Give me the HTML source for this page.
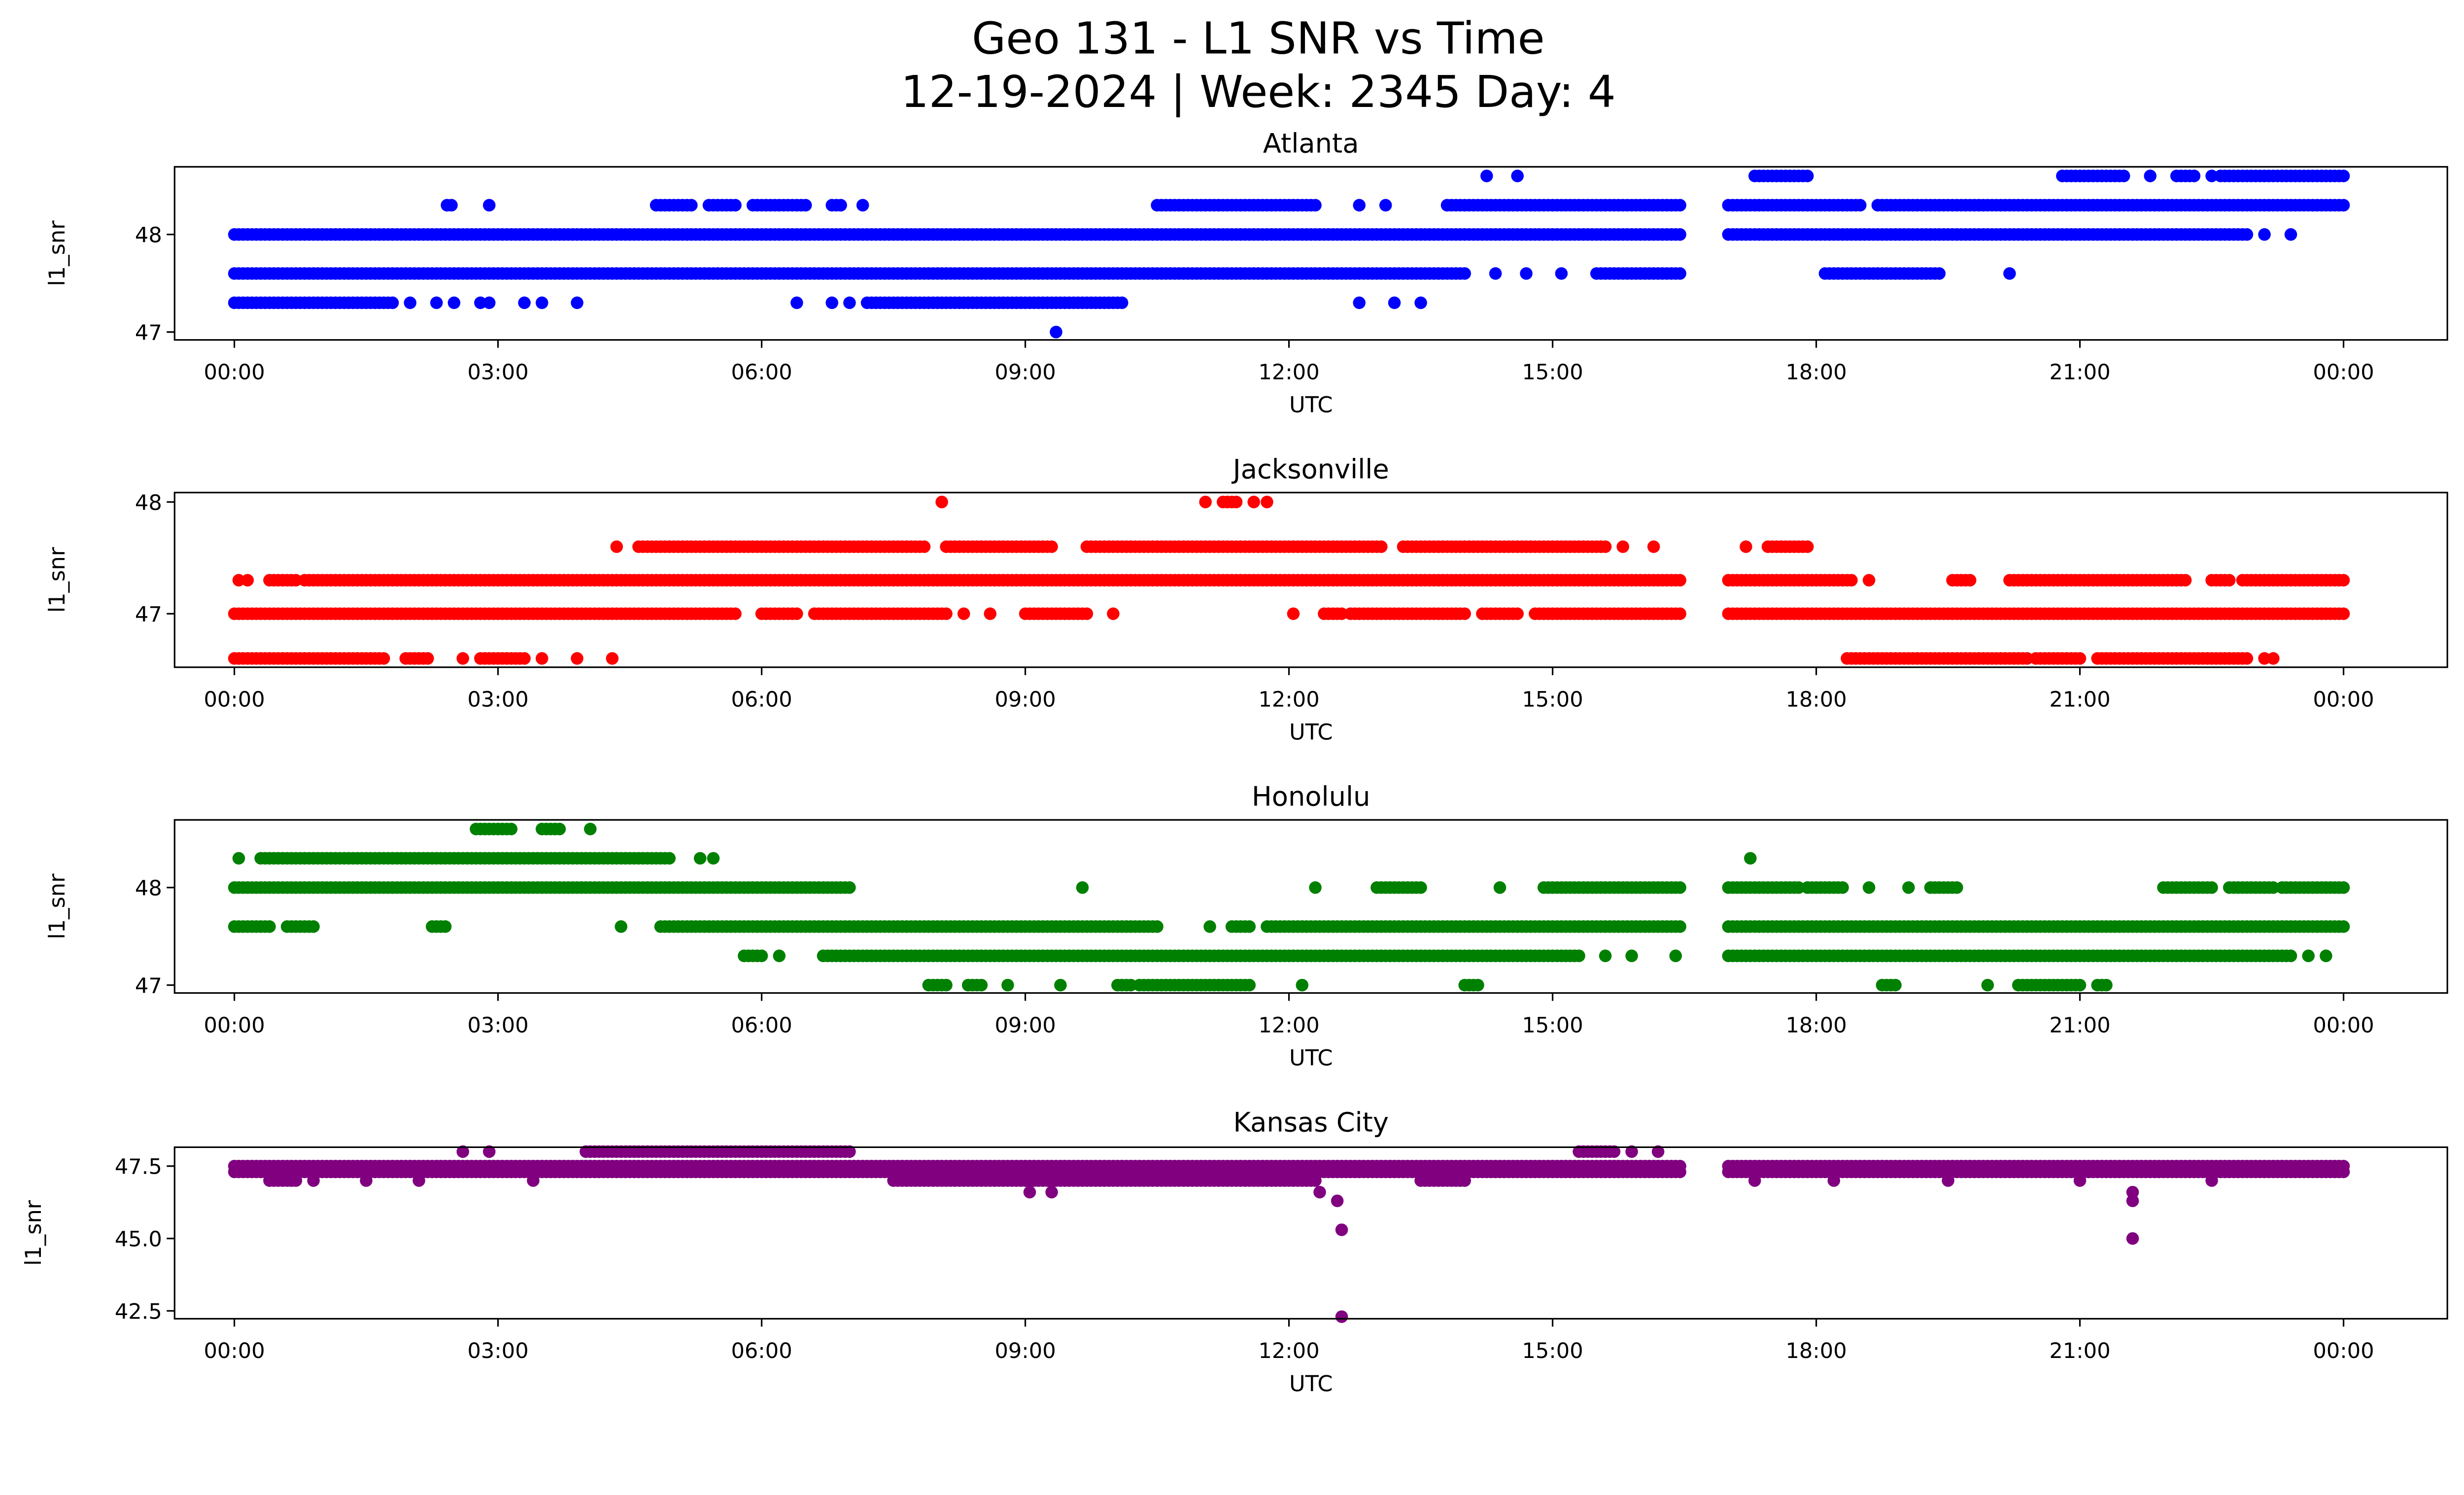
<!DOCTYPE html>
<html><head><meta charset="utf-8"><style>
html,body{margin:0;padding:0;background:#fff;overflow:hidden;}
svg{display:block;}
text{font-family:"DejaVu Sans","Liberation Sans",sans-serif;fill:#000;}
</style></head><body>
<svg id="chart" width="5279" height="3033" viewBox="0 0 1654 950" preserveAspectRatio="none" xmlns="http://www.w3.org/2000/svg">
<rect width="1654" height="950" fill="#fff"/>
<text x="800" y="34" font-size="28" text-anchor="middle">Geo 131 - L1 SNR vs Time</text>
<text x="800" y="68" font-size="28" text-anchor="middle">12-19-2024 | Week: 2345 Day: 4</text>
</svg>
<script>
// ---- data (hours UTC; runs are [start,end] of continuous samples, singles are lone samples) ----
const xTickLabels = ["00:00","03:00","06:00","09:00","12:00","15:00","18:00","21:00","00:00"];
const xTickHours = [0,3,6,9,12,15,18,21,24];

const atlantaLevels = [48.6, 48.3, 48, 47.6, 47.3, 47];
const atlantaRuns = [
  [[17.3,17.9],[20.8,21.5],[22.1,22.3],[22.6,24]],
  [[4.8,5.2],[5.4,5.7],[5.9,6.5],[6.8,6.9],[10.5,12.3],[13.8,16.45],[17,18.5],[18.7,24]],
  [[0,16.45],[17,22.9]],
  [[0,14.0],[15.5,16.45],[18.1,19.4]],
  [[0,1.8],[7.2,10.1]],
  []
];
const atlantaSingles = [
  [14.25,14.6,21.8,22.5],
  [2.42,2.47,2.9,7.15,12.8,13.1],
  [23.1,23.4],
  [14.35,14.7,15.1,20.2],
  [2.0,2.3,2.5,2.8,2.9,3.3,3.5,3.9,6.4,6.8,7.0,12.8,13.2,13.5],
  [9.35]
];

const jaxLevels = [48, 47.6, 47.3, 47, 46.6];
const jaxRuns = [
  [[11.25,11.4]],
  [[4.6,7.85],[8.1,9.3],[9.7,13.05],[13.3,15.6],[17.45,17.9]],
  [[0.4,0.7],[0.8,16.45],[17,18.4],[19.55,19.75],[20.2,21.7],[21.75,22.2],[22.5,22.7],[22.85,24]],
  [[0,5.7],[6.0,6.4],[6.6,8.1],[9.0,9.7],[12.4,12.6],[12.7,14.0],[14.2,14.6],[14.8,16.45],[17,24]],
  [[0,1.7],[1.95,2.2],[2.8,3.3],[18.35,20.4],[20.5,21.0],[21.2,22.9]]
];
const jaxSingles = [
  [8.05,11.05,11.6,11.75],
  [4.35,15.8,16.15,17.2],
  [0.05,0.15,18.6],
  [8.3,8.6,10.0,12.05],
  [2.6,3.5,3.9,4.3,23.1,23.2]
];

const honLevels = [48.6, 48.3, 48, 47.6, 47.3, 47];
const honRuns = [
  [[2.75,3.15],[3.5,3.7]],
  [[0.3,4.95]],
  [[0,7.0],[13.0,13.5],[14.9,16.45],[17,17.8],[17.9,18.3],[19.3,19.6],[21.95,22.5],[22.7,23.2],[23.3,24]],
  [[0,0.4],[0.6,0.9],[2.25,2.4],[4.85,10.5],[11.35,11.55],[11.75,16.45],[17,24]],
  [[5.8,6.0],[6.7,15.3],[17,23.4]],
  [[7.9,8.1],[8.35,8.5],[10.05,10.2],[10.3,11.55],[14.0,14.15],[18.75,18.9],[20.3,20.5],[20.55,21.0],[21.2,21.3]]
];
const honSingles = [
  [4.05],
  [0.05,5.3,5.45,17.25],
  [9.65,12.3,14.4,18.6,19.05],
  [4.4,11.1],
  [6.2,15.6,15.9,16.4,23.6,23.8],
  [8.8,9.4,12.15,19.95]
];

const kcLevels = [48, 47.5, 47.3, 47, 46.6, 46.3, 45.3, 45.0, 42.3];
const kcRuns = [
  [[4.0,7.0],[15.3,15.7]],
  [[0,16.45],[17,24]],
  [[0,16.45],[17,24]],
  [[7.5,12.3],[0.4,0.7],[13.5,14.0]],
  [], [], [], [], []
];
const kcSingles = [
  [2.6,2.9,15.9,16.2],
  [], [],
  [0.9,1.5,2.1,3.4,17.3,18.2,19.5,21.0,22.5],
  [9.05,9.3,12.35,21.6],
  [12.55,21.6],
  [12.6],
  [21.6],
  [12.6]
];

// ---- layout ----
const L = 111, R = 1556;
function xScale(h){ return 149 + h * (1490 - 149) / 24; }
const panels = [
  {name:"atlanta", title:"Atlanta", color:"#0000ff", top:106, bottom:216, levels:atlantaLevels, runs:atlantaRuns, singles:atlantaSingles,
   yTicks:[48,47], yLab:["48","47"], y:v=>149+(48-v)*62, tl:97},
  {name:"jacksonville", title:"Jacksonville", color:"#ff0000", top:313, bottom:424, levels:jaxLevels, runs:jaxRuns, singles:jaxSingles,
   yTicks:[48,47], yLab:["48","47"], y:v=>319+(48-v)*71, tl:304},
  {name:"honolulu", title:"Honolulu", color:"#008000", top:521, bottom:631, levels:honLevels, runs:honRuns, singles:honSingles,
   yTicks:[48,47], yLab:["48","47"], y:v=>564+(48-v)*62, tl:512},
  {name:"kansas-city", title:"Kansas City", color:"#800080", top:729, bottom:838, levels:kcLevels, runs:kcRuns, singles:kcSingles,
   yTicks:[47.5,45,42.5], yLab:["47.5","45.0","42.5"], y:v=>741+(47.5-v)*18.4, tl:719}
];
const NS = "http://www.w3.org/2000/svg";
const svg = document.getElementById('chart');
function mk(tag, attrs, parent){
  const e = document.createElementNS(NS, tag);
  for (const k in attrs) e.setAttribute(k, attrs[k]);
  (parent||svg).appendChild(e);
  return e;
}
const STEP = 0.05, RAD = 4;
panels.forEach(p => {
  const g = mk('g', {});
  
  
  const t = mk('text', {x:(L+R)/2, y:p.tl, 'font-size':17, 'text-anchor':'middle'}, g);
  t.textContent = p.title;
  
  
  const pts = mk('g', {fill:p.color}, g);
  
  
  p.levels.forEach((lv, i) => {
    const yy = p.y(lv);
    (p.runs[i]||[]).forEach(r => {
      for (let h = r[0]; h <= r[1] + 1e-9; h += STEP) {
        const c = mk('circle', {cx:xScale(h).toFixed(2), cy:yy.toFixed(2), r:RAD}, pts);
        
        
      }
    });
    (p.singles[i]||[]).forEach(h => {
      const c = mk('circle', {cx:xScale(h).toFixed(2), cy:yy.toFixed(2), r:RAD}, pts);
      
      
    });
  });
  const fr = mk('rect', {x:L, y:p.top, width:R-L, height:p.bottom-p.top, fill:'none', stroke:'#000', 'stroke-width':1}, g);
  
  
  xTickHours.forEach((h, i) => {
    const x = xScale(h);
    mk('line', {x1:x, x2:x, y1:p.bottom, y2:p.bottom+5, stroke:'#000', 'stroke-width':1}, g);
    const tx = mk('text', {x:x, y:p.bottom+25, 'font-size':13.5, 'text-anchor':'middle'}, g);
    tx.textContent = xTickLabels[i];
    
    
  });
  p.yTicks.forEach((v, i) => {
    const y = p.y(v);
    mk('line', {x1:L-5, x2:L, y1:y, y2:y, stroke:'#000', 'stroke-width':1}, g);
    const ty = mk('text', {x:L-8, y:y+5, 'font-size':13.5, 'text-anchor':'end'}, g);
    ty.textContent = p.yLab[i];
    
    
  });
  const xl = mk('text', {x:(L+R)/2, y:p.bottom+46, 'font-size':14, 'text-anchor':'middle'}, g);
  xl.textContent = 'UTC';
  
  
  const yc = (p.top + p.bottom) / 2;
  const lx = p.name === 'kansas-city' ? 26 : 41;
  const yl = mk('text', {x:lx, y:yc, 'font-size':14, 'text-anchor':'middle', transform:`rotate(-90 ${lx} ${yc})`}, g);
  yl.textContent = 'l1_snr';
  
  
});
</script>
</body></html>
